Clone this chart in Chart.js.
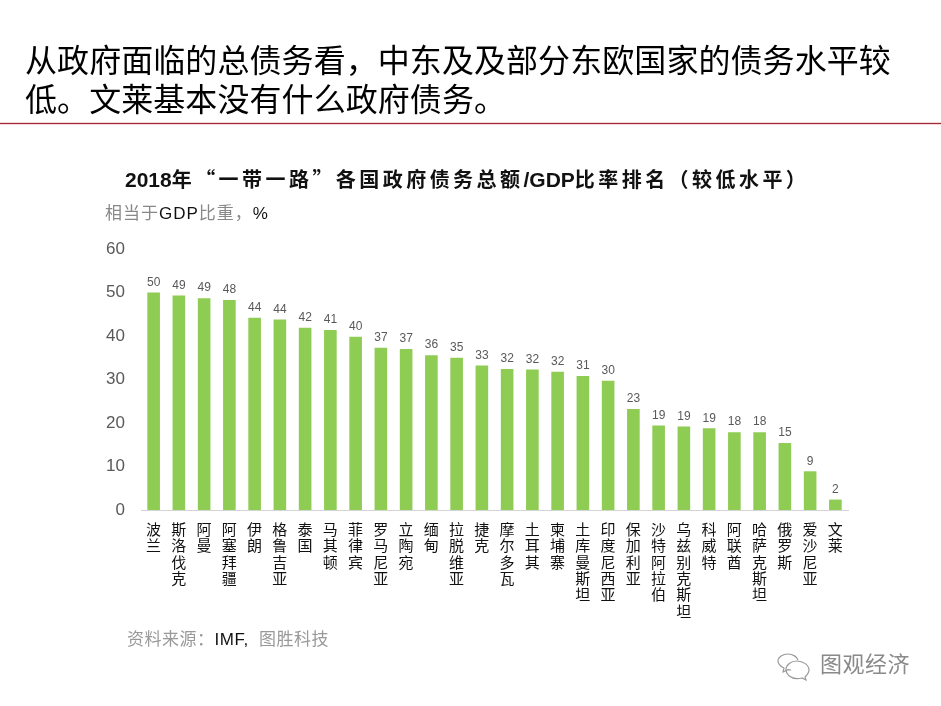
<!DOCTYPE html>
<html lang="zh">
<head>
<meta charset="utf-8">
<title>一带一路 政府债务</title>
<script src="https://cdn.jsdelivr.net/npm/chart.js@4"></script>
<style>
  html, body { margin: 0; padding: 0; background: #fff; }
  body { position: relative; width: 941px; height: 706px; overflow: hidden; font-family: "Liberation Sans", "Noto Sans CJK SC", sans-serif; }
  canvas { position: absolute; left: 0; top: 0; }
  .txt { position: absolute; white-space: nowrap; }
  #heading { left: 25px; top: 42px; font-size: 32px; line-height: 39px; color: #000; letter-spacing: 0.07px; }
  #rule { position: absolute; left: 0; top: 123px; width: 941px; height: 1px; background: #a02a3a; box-shadow: 0 1px 0 #f3d5d8, 0 -1px 0 #f3d5d8; }
  #chartTitle { left: 125px; top: 166px; font-family: "Noto Sans CJK SC", sans-serif; font-size: 20px; line-height: 26px; font-weight: bold; color: #111; letter-spacing: 3.45px; }
  #chartTitle .lat { font-family: "Liberation Sans", sans-serif; font-size: 21px; letter-spacing: 0; }
  #unit { left: 105px; top: 203px; font-size: 17px; line-height: 22px; color: #888; letter-spacing: 1px; }
  #source { left: 127px; top: 629px; font-size: 17px; line-height: 22px; color: #999; letter-spacing: 0.5px; }
  .dark { color: #111; }
  #mark { left: 820px; top: 651px; font-size: 22px; line-height: 28px; color: #8a8a8a; letter-spacing: 0.5px; }
  #icon { position: absolute; left: 775px; top: 653px; }
</style>
</head>
<body>
<canvas id="debtChart" width="941" height="706"></canvas>
<div class="txt" id="heading">从政府面临的总债务看，中东及及部分东欧国家的债务水平较<br>低。文莱基本没有什么政府债务。</div>
<div id="rule"></div>
<div class="txt" id="chartTitle"><span class="lat">2018</span>年“一带一路”各国政府债务总额<span class="lat">/GDP</span>比率排名（较低水平）</div>
<div class="txt" id="unit">相当于<span class="dark">GDP</span>比重，<span class="dark">%</span></div>
<div class="txt" id="source">资料来源：<span class="dark">IMF,</span>&nbsp; 图胜科技</div>
<svg id="icon" width="38" height="28" viewBox="0 0 38 28" fill="none" stroke="#9a9a9a" stroke-width="1.2">
  <path d="M16 17c-1 0-2 0-3-.4L8 19l1-4c-4-2-6-5-6-7 0-4 5-7 10-7 5 0 9 3 10 6"/>
  <path d="M22 8c6 0 12 4 12 9 0 3-2 5-4 7l1 3-4-2c-2 .6-3 .6-5 .6-6 0-11-4-11-9s5-8.600 11-8.600z"/>
</svg>
<div class="txt" id="mark">图观经济</div>
<script>
const paesi = ["波兰", "斯洛伐克", "阿曼", "阿塞拜疆", "伊朗", "格鲁吉亚", "泰国", "马其顿", "菲律宾", "罗马尼亚", "立陶宛", "缅甸", "拉脱维亚", "捷克", "摩尔多瓦", "土耳其", "柬埔寨", "土库曼斯坦", "印度尼西亚", "保加利亚", "沙特阿拉伯", "乌兹别克斯坦", "科威特", "阿联酋", "哈萨克斯坦", "俄罗斯", "爱沙尼亚", "文莱"];
const debito = [50, 49.3, 48.7, 48.3, 44.2, 43.8, 41.9, 41.4, 39.8, 37.3, 37, 35.6, 35, 33.2, 32.4, 32.3, 31.8, 30.8, 29.7, 23.2, 19.4, 19.2, 18.8, 17.9, 17.9, 15.4, 8.9, 2.4];
const etichette = [50, 49, 49, 48, 44, 44, 42, 41, 40, 37, 37, 36, 35, 33, 32, 32, 32, 31, 30, 23, 19, 19, 19, 18, 18, 15, 9, 2];
const tickY = [0, 10, 20, 30, 40, 50, 60];

// numeri sopra le barre
const barLabels = {
  id: "barLabels",
  afterDatasetsDraw(chart) {
    const ctx = chart.ctx;
    ctx.save();
    ctx.font = '12px "Liberation Sans", sans-serif';
    ctx.fillStyle = "#595959";
    ctx.textAlign = "center";
    ctx.textBaseline = "bottom";
    chart.getDatasetMeta(0).data.forEach((bar, i) => {
      ctx.fillText(etichette[i], bar.x, bar.y - 4);
    });
    ctx.restore();
  }
};

new Chart(document.getElementById("debtChart").getContext("2d"), {
  type: "bar",
  data: {
    // una riga per carattere, le etichette sono verticali
    labels: paesi.map(p => Array.from(p)),
    datasets: [{
      data: debito,
      backgroundColor: "#8fcc54",
      barPercentage: 0.5,
      categoryPercentage: 1
    }]
  },
  options: {
    responsive: false,
    animation: false,
    layout: { padding: { left: 100, right: 93, top: 249, bottom: 86 } },
    plugins: {
      legend: { display: false },
      title: { display: false },
      tooltip: { enabled: false }
    },
    scales: {
      x: {
        afterFit(scale) { scale.height = 110; },
        grid: { display: false, drawTicks: false },
        border: { color: "#d4d4d4" },
        ticks: {
          autoSkip: false,
          maxRotation: 0,
          minRotation: 0,
          padding: 11,
          color: "#111",
          font: { family: '"Noto Sans CJK SC", sans-serif', size: 15, lineHeight: 1.09 }
        }
      },
      y: {
        min: 0,
        max: 60,
        afterFit(scale) { scale.width = 41; },
        afterBuildTicks(scale) { scale.ticks = tickY.map(v => ({ value: v })); },
        grid: { display: false, drawTicks: false },
        border: { display: false },
        ticks: {
          padding: 16,
          color: "#595959",
          font: { family: '"Liberation Sans", sans-serif', size: 17 }
        }
      }
    }
  },
  plugins: [barLabels]
});
</script>
</body>
</html>
